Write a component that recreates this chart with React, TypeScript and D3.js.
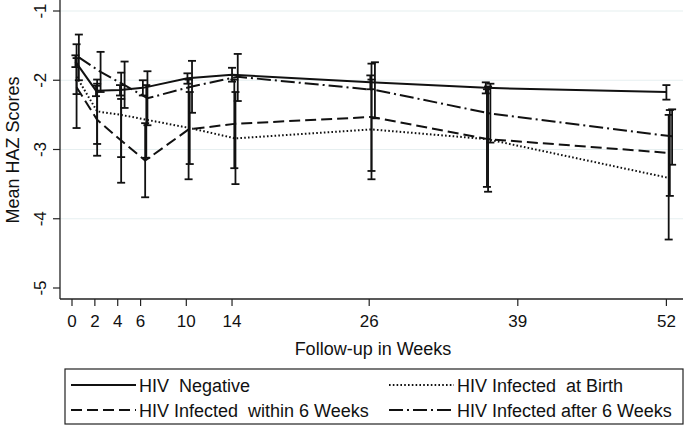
import React from "react";
import * as d3 from "d3";

const W = 685;
const H = 426;

const yTicks = [-1, -2, -3, -4, -5];
const xTicks = [0, 2, 4, 6, 10, 14, 26, 39, 52];

const seriesNames = [
  "HIV  Negative",
  "HIV Infected  at Birth",
  "HIV Infected  within 6 Weeks",
  "HIV Infected after 6 Weeks",
];

// visit weeks (slightly jittered per group as in the figure)
const weeksNeg = [0.3, 2.1, 4.2, 6.2, 10.1, 14.0, 26.1, 36.2, 52.0];
const weeksBirth = [0.4, 2.2, 4.3, 6.5, 10.3, 14.3, 26.2, 36.3, 52.2];
const weeksWithin = [0.4, 2.2, 4.3, 6.4, 10.2, 14.2, 26.2, 36.4, 52.3];
const weeksAfter = [0.6, 2.5, 4.6, 6.6, 10.5, 14.5, 26.5, 36.6, 52.5];

const meanNeg = [-1.73, -2.15, -2.14, -2.11, -1.97, -1.92, -2.03, -2.11, -2.17];
const hiNeg = [-1.64, -2.08, -2.07, -2.0, -1.9, -1.82, -1.93, -2.03, -2.07];
const loNeg = [-1.81, -2.23, -2.22, -2.22, -2.05, -2.02, -2.13, -2.19, -2.28];

const meanBirth = [-1.95, -2.45, -2.5, -2.57, -2.69, -2.84, -2.71, -2.85, -3.41];
const hiBirth = [-1.68, -1.99, -1.89, -2.07, -2.17, -2.17, -1.99, -2.13, -2.5];
const loBirth = [-2.2, -2.92, -3.11, -3.12, -3.21, -3.5, -3.43, -3.54, -4.3];

const meanWithin = [-2.1, -2.57, -2.87, -3.16, -2.71, -2.63, -2.53, -2.85, -3.05];
const hiWithin = [-1.48, -2.05, -2.27, -2.62, -1.99, -1.99, -1.76, -2.09, -2.43];
const loWithin = [-2.69, -3.09, -3.48, -3.69, -3.43, -3.27, -3.31, -3.61, -3.67];

const meanAfter = [-1.67, -1.88, -2.07, -2.26, -2.09, -1.95, -2.14, -2.48, -2.81];
const hiAfter = [-1.34, -1.59, -1.73, -1.87, -1.72, -1.62, -1.74, -2.05, -2.42];
const loAfter = [-2.0, -2.17, -2.4, -2.65, -2.47, -2.3, -2.55, -2.9, -3.22];

const dashes = ["none", "1.6 2.2", "11 5", "14 4 2 4"];

const FONT = "Liberation Sans, Arial, Helvetica, sans-serif";

export default function App() {
  const x = d3.scaleLinear().domain([0, 52]).range([72, 666.4]);
  const y = d3.scaleLinear().domain([-5, -1]).range([288, 11]);

  const groups = [
    { w: weeksNeg, m: meanNeg, hi: hiNeg, lo: loNeg },
    { w: weeksBirth, m: meanBirth, hi: hiBirth, lo: loBirth },
    { w: weeksWithin, m: meanWithin, hi: hiWithin, lo: loWithin },
    { w: weeksAfter, m: meanAfter, hi: hiAfter, lo: loAfter },
  ];

  const line = d3
    .line<[number, number]>()
    .x((d) => x(d[0]))
    .y((d) => y(d[1]));

  const left = 60;
  const right = 683;
  const bottom = 299;

  return (
    <svg
      width={W}
      height={H}
      style={{ position: "absolute", left: 0, top: 0, background: "#fff" }}
      fontFamily={FONT}
    >
      <rect x={0} y={0} width={W} height={H} fill="#fff" />
      {/* gridlines */}
      {yTicks.slice(0, 4).map((t) => (
        <line key={"g" + t} x1={left} x2={right} y1={y(t)} y2={y(t)} stroke="#e6eff0" strokeWidth={1.2} />
      ))}
      {/* axes */}
      <line x1={left} x2={left} y1={0} y2={bottom} stroke="#222" strokeWidth={1.3} />
      <line x1={left} x2={right} y1={bottom} y2={bottom} stroke="#222" strokeWidth={1.3} />
      {yTicks.map((t) => (
        <g key={"y" + t}>
          <line x1={left - 7} x2={left} y1={y(t)} y2={y(t)} stroke="#222" strokeWidth={1.2} />
          <text
            transform={`translate(46,${y(t)}) rotate(-90)`}
            textAnchor="middle"
            fontSize={17}
            fill="#111"
          >
            {t}
          </text>
        </g>
      ))}
      {xTicks.map((t) => (
        <g key={"x" + t}>
          <line x1={x(t)} x2={x(t)} y1={bottom} y2={bottom + 7} stroke="#222" strokeWidth={1.2} />
          <text x={x(t)} y={327} textAnchor="middle" fontSize={17} fill="#111">
            {t}
          </text>
        </g>
      ))}
      <text transform="translate(19,150) rotate(-90)" textAnchor="middle" fontSize={18} fill="#111">
        Mean HAZ Scores
      </text>
      <text x={373} y={355} textAnchor="middle" fontSize={18} fill="#111">
        Follow-up in Weeks
      </text>

      {/* error bars */}
      {groups.map((g, gi) =>
        g.w.map((wk, i) => (
          <g key={"e" + gi + "-" + i} stroke="#111" strokeWidth={1.8}>
            <line x1={x(wk)} x2={x(wk)} y1={y(g.hi[i])} y2={y(g.lo[i])} />
            <line x1={x(wk) - 4} x2={x(wk) + 4} y1={y(g.hi[i])} y2={y(g.hi[i])} />
            <line x1={x(wk) - 4} x2={x(wk) + 4} y1={y(g.lo[i])} y2={y(g.lo[i])} />
          </g>
        ))
      )}
      {/* lines */}
      {groups.map((g, gi) => (
        <path
          key={"l" + gi}
          d={line(g.w.map((wk, i) => [wk, g.m[i]] as [number, number])) || ""}
          fill="none"
          stroke="#111"
          strokeWidth={2}
          strokeDasharray={dashes[gi]}
        />
      ))}

      {/* legend */}
      <rect x={65} y={369} width={618} height={55} fill="none" stroke="#222" strokeWidth={1.2} />
      {seriesNames.map((name, i) => {
        const col = i === 0 || i === 2 ? 0 : 1;
        const row = i < 2 ? 0 : 1;
        const lx = col === 0 ? 71 : 389;
        const ly = row === 0 ? 385 : 410;
        return (
          <g key={"lg" + i}>
            <line
              x1={lx}
              x2={lx + 65}
              y1={ly}
              y2={ly}
              stroke="#111"
              strokeWidth={2}
              strokeDasharray={dashes[i]}
            />
            <text x={lx + 68} y={ly + 6.5} fontSize={18} fill="#111" style={{ whiteSpace: "pre" }}>
              {name}
            </text>
          </g>
        );
      })}
    </svg>
  );
}
